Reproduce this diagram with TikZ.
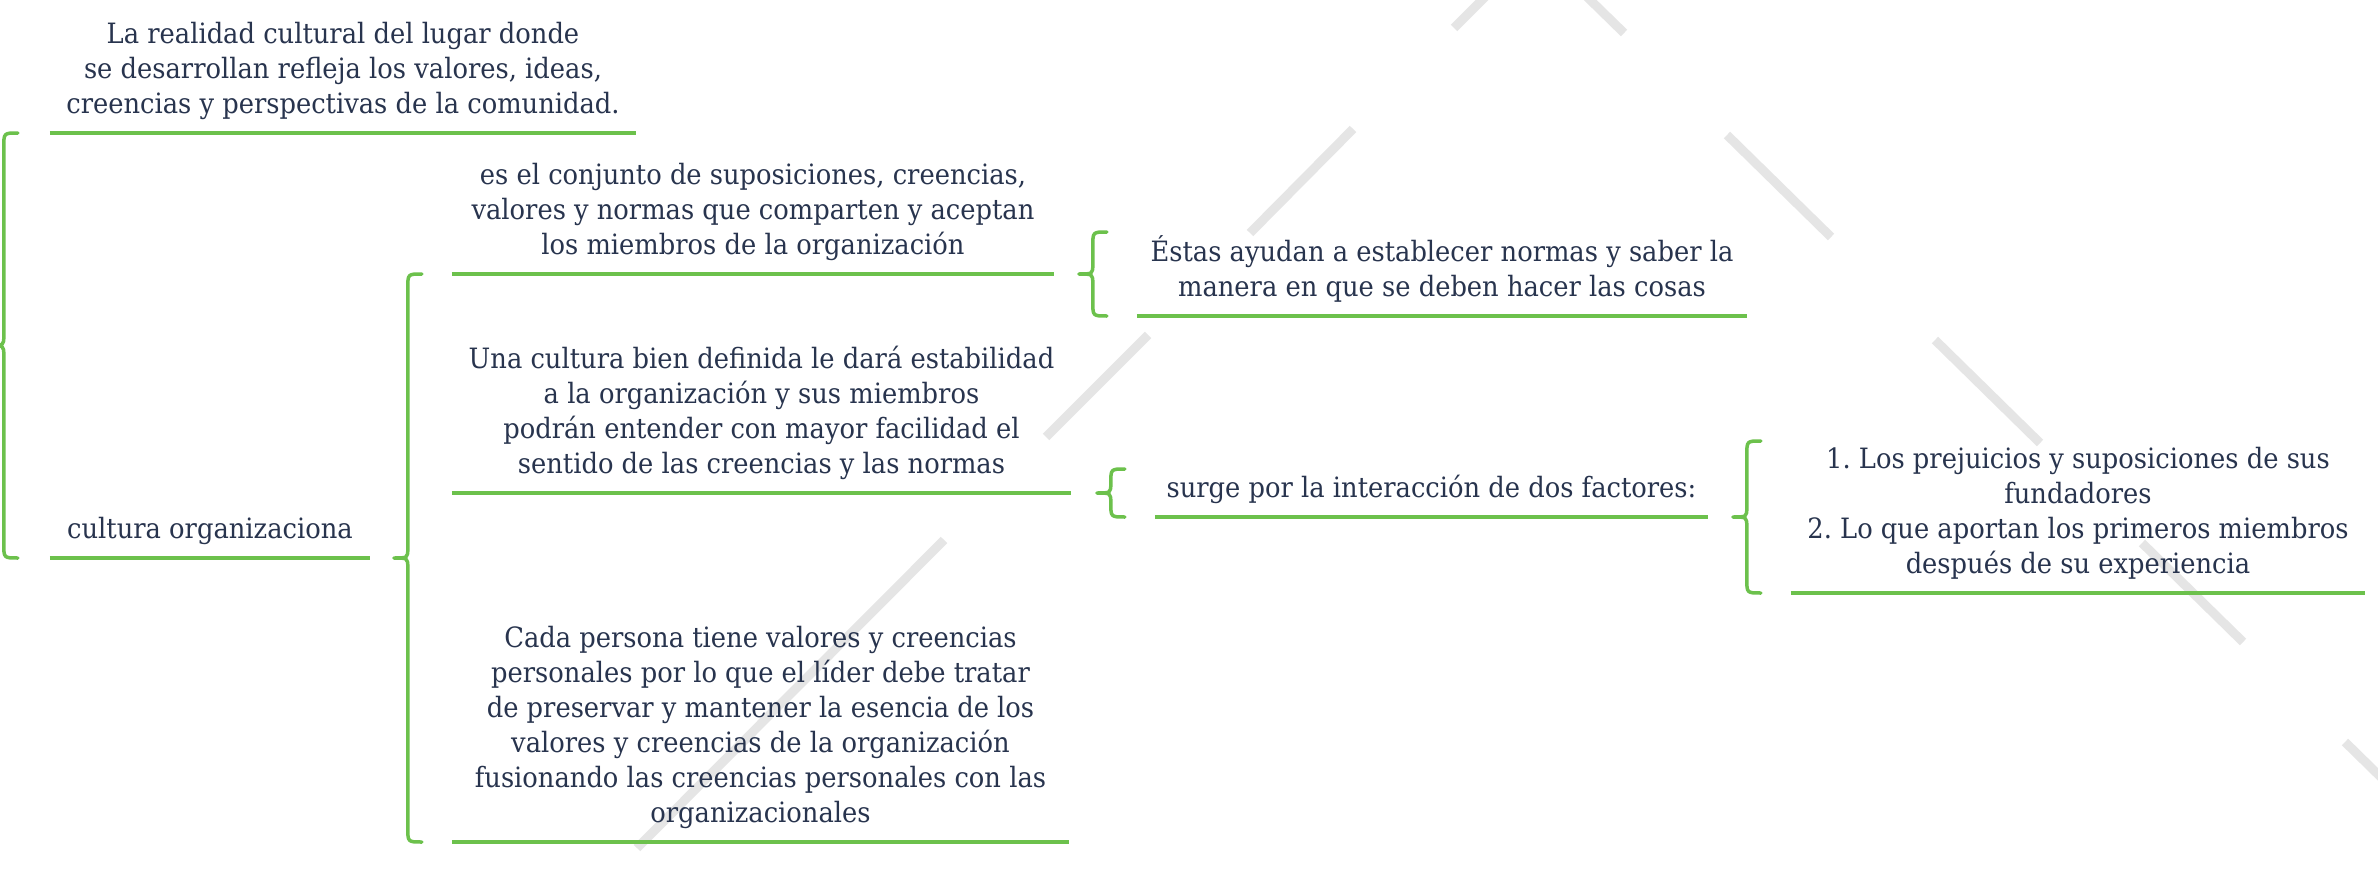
\documentclass[tikz,border=0pt]{standalone}
\usepackage{fontspec}
\setmainfont{DejaVu Serif}[FakeStretch=0.92]
\frenchspacing
\usetikzlibrary{calc}
\definecolor{grn}{RGB}{108,193,76}
\definecolor{ink}{RGB}{40,52,78}
\definecolor{bggray}{RGB}{229,229,229}
\tikzset{
  txt/.style={anchor=south, align=center, inner xsep=0pt, inner ysep=8.5pt,
    text=ink, font=\fontsize{28}{35}\selectfont},
  uline/.style={draw=grn, line width=3.5pt},
  brace/.style={draw=grn, line width=3.5pt, line cap=round, line join=round},
  bgline/.style={draw=bggray, line width=9pt},
}
\newcommand\bracepath{(\x1,\y1) .. controls (\x1-14,\y1) .. (\x1-14,\y1-14)
  -- (\x1-14,\y2+10) .. controls (\x1-14,\y2) .. (\x1-28,\y2)
  .. controls (\x1-14,\y2) .. (\x1-14,\y2-10)
  -- (\x1-14,\y3+14) .. controls (\x1-14,\y3) .. (\x1,\y3)}
% brace with two children: #1 top end, #2 tip point, #3 bottom end
\newcommand\bracetwo[3]{\draw[brace] let \p1=#1, \p2=#2, \p3=#3 in \bracepath;}
% brace with one child: #1 parent node, #2 child node
\newcommand\braceone[2]{\draw[brace] let \p2=(#1.south east), \p3=([xshift=-30pt]#2.south west),
  \p1=(\x3,{2*\y2-\y3}) in \bracepath;}
\begin{document}
\begin{tikzpicture}[x=1pt,y=-1pt]
\useasboundingbox (0,0) rectangle (2378,883);
\fill[white] (0,0) rectangle (2378,883);
% background decorative lines
\begin{scope}
\clip (0,0) rectangle (2378,883);
\draw[bgline] (1492,-10) -- (1454,28);
\draw[bgline] (1353,129) -- (1250,233);
\draw[bgline] (1148,335) -- (1046,437);
\draw[bgline] (944,540) -- (637,848);
\draw[bgline] (1580,-10) -- (1624,33);
\draw[bgline] (1727,135) -- (1831,237);
\draw[bgline] (1935,340) -- (2040,443);
\draw[bgline] (2142,543) -- (2243,642);
\draw[bgline] (2345,742) -- (2450,845);
\end{scope}
% nodes
\node[txt, minimum width=586pt] (t0) at (343,133)
  {La realidad cultural del lugar donde\\se desarrollan refleja los valores, ideas,\\creencias y perspectivas de la comunidad.\strut};
\node[txt, minimum width=320pt] (cult) at (210,558) {cultura organizaciona\strut};
\node[txt, minimum width=602pt] (c1) at (753,274)
  {es el conjunto de suposiciones, creencias,\\valores y normas que comparten y aceptan\\los miembros de la organización\strut};
\node[txt, minimum width=619pt] (c2) at (761.5,493)
  {Una cultura bien definida le dará estabilidad\\a la organización y sus miembros\\podrán entender con mayor facilidad el\\sentido de las creencias y las normas\strut};
\node[txt, minimum width=617pt] (c3) at (760.5,842)
  {Cada persona tiene valores y creencias\\personales por lo que el líder debe tratar\\de preservar y mantener la esencia de los\\valores y creencias de la organización\\fusionando las creencias personales con las\\organizacionales\strut};
\node[txt, minimum width=610pt] (e) at (1442,316)
  {Éstas ayudan a establecer normas y saber la\\manera en que se deben hacer las cosas\strut};
\node[txt, minimum width=553pt] (s) at (1431.5,517)
  {surge por la interacción de dos factores:\strut};
\node[txt, minimum width=574pt] (f) at (2078,593)
  {1. Los prejuicios y suposiciones de sus\\fundadores\\2. Lo que aportan los primeros miembros\\después de su experiencia\strut};
% underlines
\foreach \n in {t0,cult,c1,c2,c3,e,s,f}
  \draw[uline] (\n.south west) -- (\n.south east);
% braces
\bracetwo{([xshift=-32pt]t0.south west)}{($(t0.south west)!0.5!(cult.south west)$)}{([xshift=-32pt]cult.south west)}
\bracetwo{([xshift=-30pt]c1.south west)}{(cult.south east)}{([xshift=-30pt]c3.south west)}
\braceone{c1}{e}
\braceone{c2}{s}
\braceone{s}{f}
\end{tikzpicture}
\end{document}
